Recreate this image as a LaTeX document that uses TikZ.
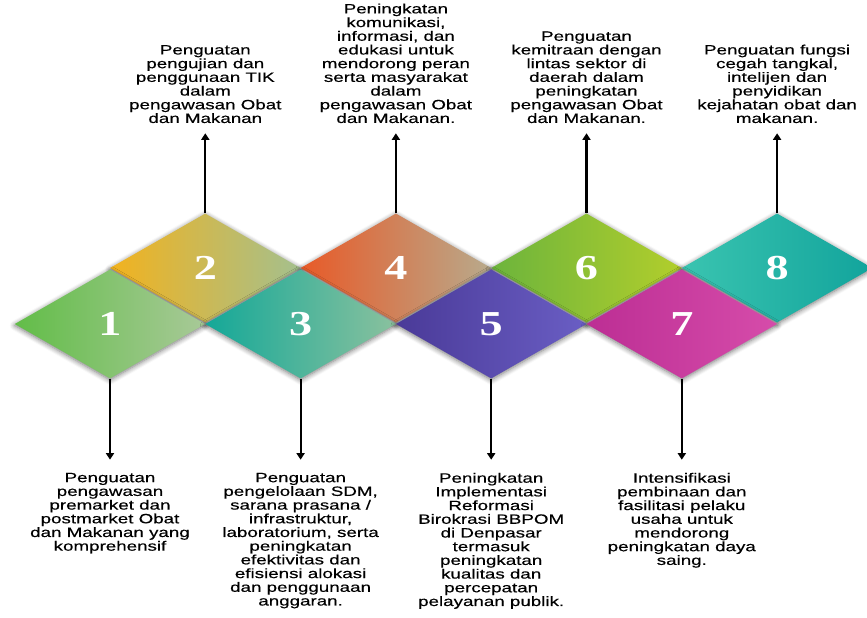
\documentclass[tikz,border=0pt]{standalone}
\usepackage{fontspec}
\setmainfont[FakeStretch=1.39,FakeBold=0.4]{Liberation Sans}
\newfontfamily\numfont[FakeStretch=1.32]{Liberation Serif}
\usetikzlibrary{shapes.geometric,positioning,shadows.blur,arrows.meta}

\definecolor{c1a}{HTML}{62BD48}
\definecolor{c1b}{HTML}{A8C998}
\definecolor{c2a}{HTML}{F2B21E}
\definecolor{c2b}{HTML}{A4C08E}
\definecolor{c3a}{HTML}{14A898}
\definecolor{c3b}{HTML}{8AC19E}
\definecolor{c4a}{HTML}{E85A28}
\definecolor{c4b}{HTML}{B8AA8C}
\definecolor{c5a}{HTML}{4A3A98}
\definecolor{c5b}{HTML}{6A5EC4}
\definecolor{c6a}{HTML}{6CB43C}
\definecolor{c6b}{HTML}{B2CE2C}
\definecolor{c7a}{HTML}{BC2E94}
\definecolor{c7b}{HTML}{D64CAA}
\definecolor{c8a}{HTML}{3AC4B0}
\definecolor{c8b}{HTML}{12A49C}

\tikzset{
  tile/.style={diamond, inner sep=0pt, minimum width=190.6pt, minimum height=109pt,
    text=white, font=\numfont\bfseries\fontsize{35}{35}\selectfont,
    blur shadow={shadow xshift=0pt, shadow yshift=-1.5pt, shadow blur radius=5pt,
      shadow blur steps=6, shadow opacity=55}},
  note/.style={align=center, inner sep=0pt, text=black,
    font=\fontsize{13.5}{13.7}\selectfont},
  arr/.style={line width=2.2pt, -{Triangle[width=8pt,length=6.5pt]}},
}

\begin{document}
\begin{tikzpicture}[x=1pt,y=1pt]
\useasboundingbox (0,0) rectangle (867,618);

% upper row
\node[tile, left color=c2a, right color=c2b] (d2) at (205.3,350) {2};
\node[tile, left color=c4a, right color=c4b] (d4) at (395.9,350) {4};
\node[tile, left color=c6a, right color=c6b] (d6) at (586.5,350) {6};
\node[tile, left color=c8a, right color=c8b] (d8) at (777.1,350) {8};
% lower row
\node[tile, left color=c1a, right color=c1b] (d1) at (110,294) {1};
\node[tile, left color=c3a, right color=c3b] (d3) at (300.6,294) {3};
\node[tile, left color=c5a, right color=c5b] (d5) at (491.2,294) {5};
\node[tile, left color=c7a, right color=c7b] (d7) at (681.8,294) {7};

% texts above
\node[note, above=90pt of d2.north] (t2) {Penguatan\\pengujian dan\\penggunaan TIK\\dalam\\pengawasan Obat\\dan Makanan};
\node[note, above=90pt of d4.north] (t4) {Peningkatan\\komunikasi,\\informasi, dan\\edukasi untuk\\mendorong peran\\serta masyarakat\\dalam\\pengawasan Obat\\dan Makanan.};
\node[note, above=90pt of d6.north] (t6) {Penguatan\\kemitraan dengan\\lintas sektor di\\daerah dalam\\peningkatan\\pengawasan Obat\\dan Makanan.};
\node[note, above=90pt of d8.north] (t8) {Penguatan fungsi\\cegah tangkal,\\intelijen dan\\penyidikan\\kejahatan obat dan\\makanan.};

% texts below
\node[note, below=94pt of d1.south] (t1) {Penguatan\\pengawasan\\premarket dan\\postmarket Obat\\dan Makanan yang\\komprehensif};
\node[note, below=94pt of d3.south] (t3) {Penguatan\\pengelolaan SDM,\\sarana prasana /\\infrastruktur,\\laboratorium, serta\\peningkatan\\efektivitas dan\\efisiensi alokasi\\dan penggunaan\\anggaran.};
\node[note, below=94pt of d5.south] (t5) {Peningkatan\\Implementasi\\Reformasi\\Birokrasi BBPOM\\di Denpasar\\termasuk\\peningkatan\\kualitas dan\\percepatan\\pelayanan publik.};
\node[note, below=94pt of d7.south] (t7) {Intensifikasi\\pembinaan dan\\fasilitasi pelaku\\usaha untuk\\mendorong\\peningkatan daya\\saing.};

% arrows
\draw[arr, shorten >=10pt] (d2.north) -- (t2.south);
\draw[arr, shorten >=10pt] (d4.north) -- (t4.south);
\draw[arr, shorten >=10pt] (d6.north) -- (t6.south);
\draw[arr, shorten >=10pt] (d8.north) -- (t8.south);
\draw[arr, shorten >=13pt] (d1.south) -- (t1.north);
\draw[arr, shorten >=13pt] (d3.south) -- (t3.north);
\draw[arr, shorten >=13pt] (d5.south) -- (t5.north);
\draw[arr, shorten >=13pt] (d7.south) -- (t7.north);
\end{tikzpicture}
\end{document}
